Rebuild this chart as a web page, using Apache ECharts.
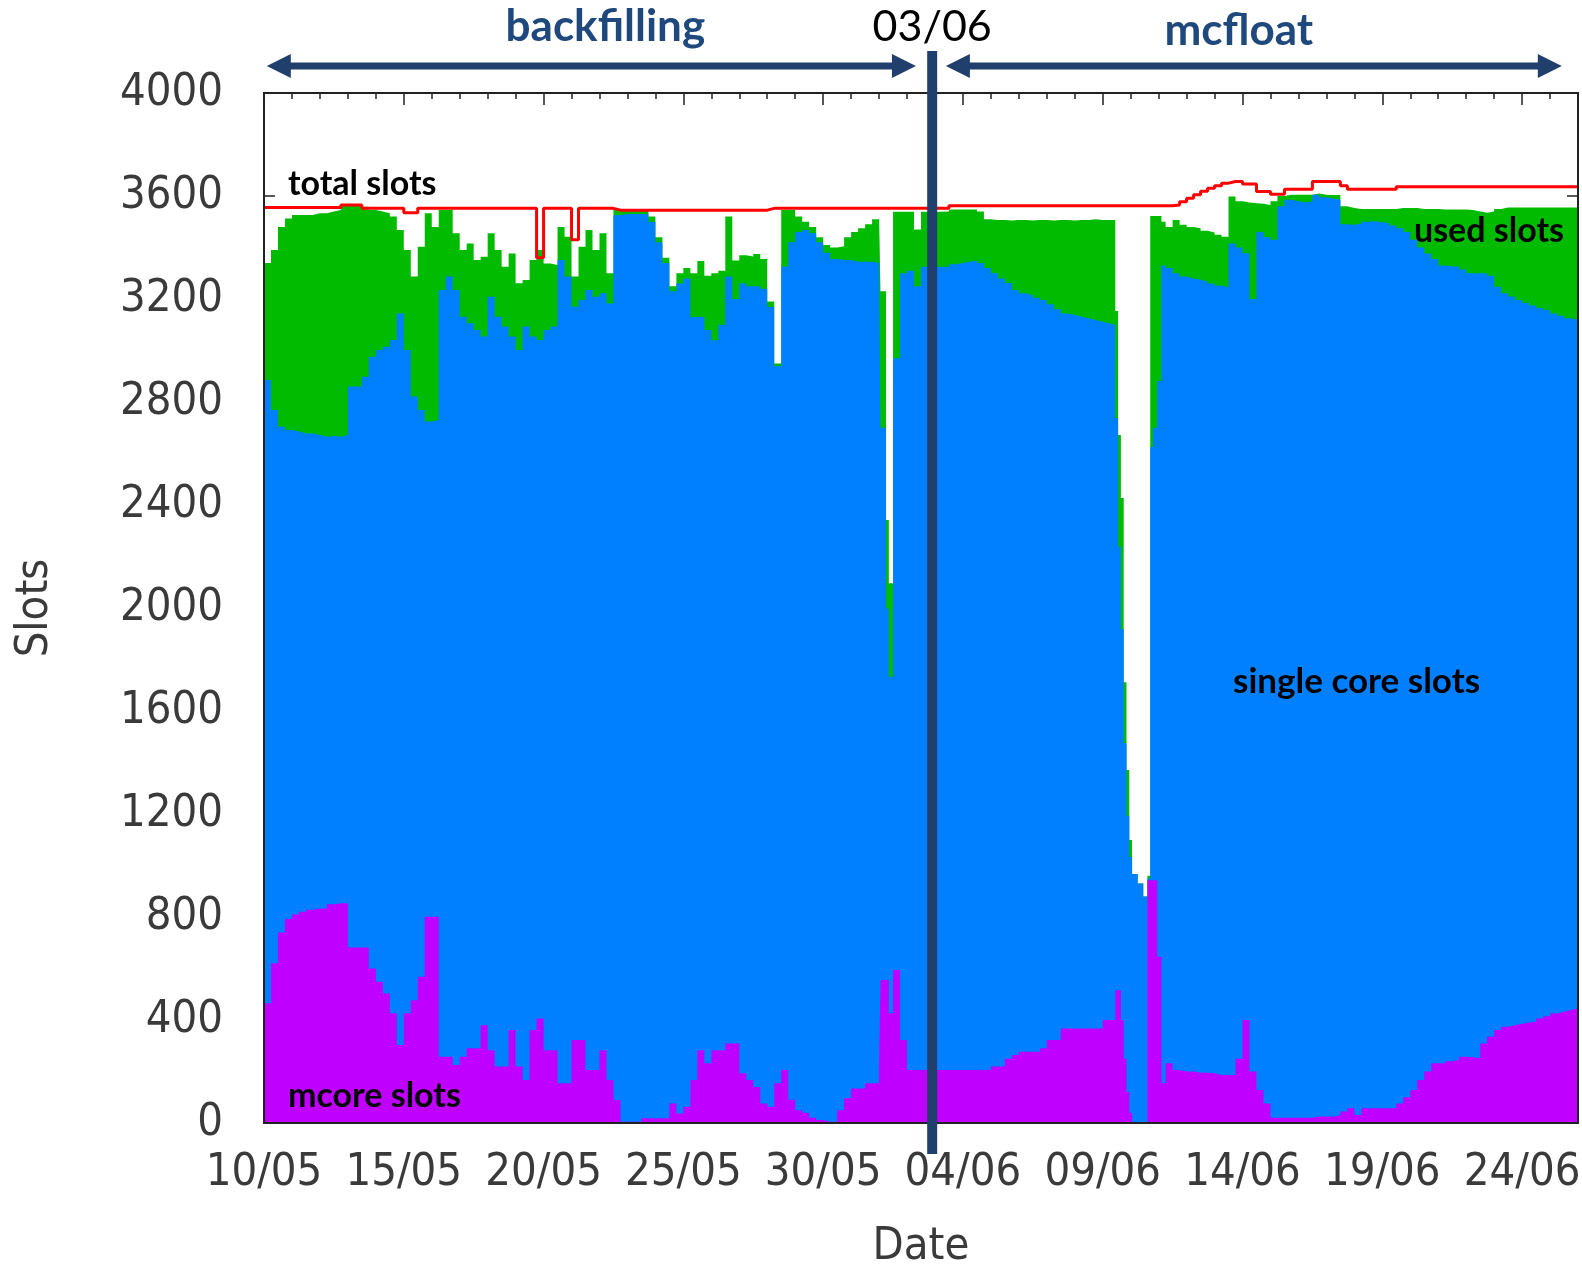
<!DOCTYPE html>
<html>
<head>
<meta charset="utf-8">
<script src="https://cdn.jsdelivr.net/npm/echarts@6/dist/echarts.min.js"></script>
<style>
html,body{margin:0;padding:0;background:#fff;}
#chart{width:1582px;height:1265px;}
</style>
</head>
<body>
<div id="chart"></div>
<script>
// ---- data (x = days since 10/05) ----
const days = [
0,0.25,0.5,0.75,
1,1.25,1.5,1.75,
2,2.25,2.5,2.75,
3,3.25,3.5,3.75,
4,4.25,4.5,4.75,
5,5.25,5.5,5.75,
6,6.25,6.5,6.75,
7,7.25,7.5,7.75,
8,8.25,8.5,8.75,
9,9.25,9.5,9.75,
10,10.25,10.5,10.75,
11,11.25,11.5,11.75,
12,12.25,12.5,12.75,
13,13.25,13.5,13.75,
14,14.25,14.5,14.75,
15,15.25,15.5,15.75,
16,16.25,16.5,16.75,
17,17.25,17.5,17.75,
18,18.25,18.5,18.75,
19,19.25,19.5,19.75,
20,20.25,20.5,20.75,
21,21.25,21.5,21.75,
22,22.05,22.25,22.35,22.5,22.75,
23,23.25,23.5,23.75,
24,24.25,24.5,24.75,
25,25.25,25.5,25.75,
26,26.25,26.5,26.75,
27,27.25,27.5,27.75,
28,28.25,28.5,28.75,
29,29.25,29.5,29.75,
30,30.25,30.45,30.55,30.65,30.75,30.85,30.95,
31.05,31.25,31.45,31.6,31.7,31.8,31.95,
32.1,32.25,32.5,32.75,
33,33.25,33.5,33.75,
34,34.25,34.5,34.75,
35,35.25,35.5,35.75,
36,36.25,36.5,36.75,
37,37.25,37.5,37.75,
38,38.25,38.5,38.75,
39,39.25,39.5,39.75,
40,40.25,40.5,40.75,
41,41.25,41.5,41.75,
42,42.25,42.5,42.75,
43,43.25,43.5,43.75,
44,44.25,44.5,44.75,
45,45.25,45.5,45.75,
46,46.25,46.5,46.75,
47
];

const usedSlots = [
3340,3390,3480,3513,
3526,3526,3526,3533,
3533,3540,3546,3565,
3569,3569,3558,3546,
3540,3533,3520,3468,
3390,3287,3403,3533,
3480,3546,3546,3455,
3390,3416,3351,3364,
3455,3390,3325,3377,
3261,3274,3351,3390,
3338,3332,3480,3442,
3287,3403,3468,3390,
3455,3300,3546,3546,
3546,3546,3548,3520,
3440,3360,3250,3300,
3320,3300,3348,3290,
3300,3310,3520,3350,
3370,3365,3375,3355,
3190,2950,3546,3546,
3520,3500,3480,3440,
3410,3400,3405,3440,
3460,3475,3490,3510,
3527,3230,2342,2096,3539,3539,
3539,3470,3539,3539,
3539,3540,3548,3548,
3548,3548,3540,3510,
3507,3507,3505,3507,
3507,3505,3507,3507,
3505,3507,3507,3505,
3507,3507,3510,3507,
3507,3507,3153,2672,2427,1712,1371,1099,
967,930,880,960,3522,3522,3522,
3500,3480,3507,3488,
3480,3475,3465,3458,
3450,3442,3598,3580,
3575,3572,3570,3565,
3580,3600,3605,3605,
3605,3605,3610,3605,
3604,3604,3560,3553,
3550,3550,3550,3550,
3550,3550,3553,3553,
3553,3550,3550,3550,
3548,3548,3548,3548,
3546,3540,3535,3540,
3550,3555,3555,3555,
3555,3555,3555,3555,
3555,3555,3555,3555,
3555
];

const mcoreSlots = [
465,620,740,792,
810,820,828,833,
833,850,853,853,
682,682,682,600,
549,503,426,303,
426,477,568,801,
801,257,257,225,
257,290,290,380,
283,219,219,361,
219,167,361,406,
283,283,154,154,
322,322,206,206,
283,167,89,5,
5,5,18,18,
18,18,76,37,
63,167,283,232,
283,283,309,309,
193,167,140,76,
63,154,206,90,
50,40,20,12,
5,5,50,96,
134,134,154,154,
219,555,555,426,594,322,
206,206,206,206,
206,206,206,206,
206,206,206,206,
219,219,250,264,
277,277,277,290,
322,322,367,367,
367,367,367,367,
400,400,516,516,400,250,120,40,
0,0,0,943,943,943,646,
154,232,206,200,
200,195,195,193,
186,186,186,250,
400,200,128,76,
20,20,20,20,
20,20,25,25,
25,30,45,57,
31,57,57,57,
57,57,76,100,
128,167,200,232,
232,240,245,257,
255,251,309,335,
361,374,380,385,
390,393,406,415,
425,432,439,445,
445
];

const singleCoreSlots = [
2420,2149,1964,1899,
1875,1858,1850,1839,
1832,1818,1812,1819,
2178,2178,2216,2376,
2453,2512,2615,2841,
2576,2344,2201,1923,
1929,2978,3030,3010,
2874,2816,2790,2674,
2926,2912,2874,2693,
2783,2926,2693,2635,
2797,2810,3197,3133,
2848,2874,3029,3003,
2939,3016,3437,3525,
3525,3525,3512,3482,
3402,3322,3154,3223,
3217,2963,2848,2848,
2757,2817,2978,2891,
3067,3083,3110,3164,
3107,2786,3120,3330,
3410,3428,3435,3408,
3375,3350,3301,3255,
3211,3211,3191,3186,
3126,2145,1443,1307,2376,2978,
3104,3044,3119,3119,
3119,3119,3129,3134,
3139,3144,3134,3114,
3081,3061,3012,2971,
2945,2938,2928,2906,
2858,2838,2777,2771,
2764,2758,2751,2745,
2705,2700,2222,1723,1518,1226,1072,993,
967,930,880,7,1682,1757,2236,
3176,3088,3094,3087,
3080,3080,3073,3067,
3066,3060,3230,3150,
2978,3000,3332,3364,
3410,3540,3565,3560,
3555,3560,3580,3570,
3565,3555,3445,3431,
3461,3443,3445,3441,
3437,3428,3399,3360,
3302,3233,3177,3123,
3098,3086,3081,3058,
3045,3049,2991,2955,
2887,2848,2830,2811,
2795,2782,2759,2742,
2719,2703,2686,2674,
2670
];

const totalSlots = [
3555,3555,3555,3555,
3555,3555,3555,3555,
3555,3555,3555,3565,
3565,3565,3552,3552,
3552,3552,3552,3552,
3535,3535,3552,3552,
3552,3552,3552,3552,
3552,3552,3552,3552,
3552,3552,3552,3552,
3552,3552,3552,3360,
3552,3552,3552,3552,
3430,3552,3552,3552,
3552,3552,3545,3545,
3545,3545,3545,3545,
3545,3545,3545,3545,
3545,3545,3545,3545,
3545,3545,3545,3545,
3545,3545,3545,3545,
3552,3552,3552,3552,
3552,3552,3552,3552,
3552,3552,3552,3552,
3552,3552,3552,3552,
3552,3552,3552,3552,3552,3552,
3552,3552,3552,3552,
3552,3552,3562,3562,
3562,3562,3562,3562,
3562,3562,3562,3562,
3562,3562,3562,3562,
3562,3562,3562,3562,
3562,3562,3562,3562,
3562,3562,3562,3562,3562,3562,3562,3562,
3562,3562,3562,3562,3562,3562,3562,
3562,3562,3565,3578,
3591,3605,3618,3630,
3640,3650,3656,3656,
3647,3647,3617,3617,
3607,3607,3626,3626,
3626,3626,3656,3656,
3656,3656,3640,3626,
3626,3626,3626,3626,
3626,3626,3636,3636,
3636,3636,3636,3636,
3636,3636,3636,3636,
3636,3636,3636,3636,
3636,3636,3636,3636,
3636,3636,3636,3636,
3636,3636,3636,3636,
3636
];

const dateTickLabels = ['10/05','15/05','20/05','25/05','30/05','04/06','09/06','14/06','19/06','24/06'];
const changeDay = 23.9;            // 03/06 switch
const changeLabel = '03/06';
const backfillSpan = [0.1, 23.32];
const mcfloatSpan = [24.39, 46.42];

// ---- styles ----
const TICK_FONT = "'DejaVu Sans Condensed', 'DejaVu Sans', sans-serif";
const ANN_FONT = "Lato, 'Open Sans', sans-serif";
const NAVY = '#1F497D';
const BAR = '#203F6C';
const AXC = '#222';
const LBL = '#3a3a3a';

const pairs = arr => days.map((d, i) => [d, arr[i]]);
// stacked top of the single-core band (mcore + single core)
const stackedPairs = (base, top) => days.map((d, i) => [d, base[i] + top[i]]);

const chart = echarts.init(document.getElementById('chart'), null, {renderer: 'canvas'});

const xLabel = v => {
  const i = Math.round(v / 5);
  return (Math.abs(v - i * 5) < 1e-6 && dateTickLabels[i] !== undefined) ? dateTickLabels[i] : '';
};

const topAxis = (interval, len) => ({
  type: 'value', min: 0, max: 47, interval: interval, position: 'top', z: 10,
  axisLine: {show: true, onZero: false, lineStyle: {color: AXC, width: 2}},
  axisTick: {show: true, inside: true, length: len, lineStyle: {color: AXC, width: 1.5}},
  axisLabel: {show: false}, splitLine: {show: false}
});

const yBase = {type: 'value', min: 0, max: 4000, interval: 400, splitLine: {show: false}};

chart.setOption({
  animation: false,
  backgroundColor: '#fff',
  grid: {left: 264, right: 4, top: 93, bottom: 142, containLabel: false, outerBoundsMode: 'none'},
  xAxis: [
    {
      type: 'value', min: 0, max: 47, interval: 5, position: 'bottom', z: 10,
      axisLine: {show: true, onZero: false, lineStyle: {color: AXC, width: 2}},
      axisTick: {show: false}, splitLine: {show: false},
      axisLabel: {formatter: xLabel, fontFamily: TICK_FONT, fontSize: 45, color: LBL, margin: 28},
      name: 'Date', nameLocation: 'middle', nameGap: 102,
      nameTextStyle: {fontFamily: TICK_FONT, fontSize: 45, color: LBL}
    },
    topAxis(5, 12),
    topAxis(1, 6)
  ],
  yAxis: [
    Object.assign({}, yBase, {
      position: 'left', z: 10,
      axisLine: {show: true, onZero: false, lineStyle: {color: AXC, width: 2}},
      axisTick: {show: false},
      axisLabel: {fontFamily: TICK_FONT, fontSize: 45, color: LBL, margin: 41, formatter: v => String(v)},
      name: 'Slots', nameLocation: 'middle', nameGap: 206, nameRotate: 90,
      nameTextStyle: {fontFamily: TICK_FONT, fontSize: 45, color: LBL}
    }),
    Object.assign({}, yBase, {
      position: 'right', z: 10,
      axisLine: {show: true, onZero: false, lineStyle: {color: AXC, width: 2}},
      axisTick: {show: false}, axisLabel: {show: false}
    }),
    Object.assign({}, yBase, {
      position: 'left', z: 0,
      axisLine: {show: false, onZero: false},
      axisTick: {show: true, inside: true, length: 11, lineStyle: {color: AXC, width: 1.5}},
      axisLabel: {show: false}
    }),
    Object.assign({}, yBase, {
      position: 'right', z: 0,
      axisLine: {show: false, onZero: false},
      axisTick: {show: true, inside: true, length: 11, lineStyle: {color: AXC, width: 1.5}},
      axisLabel: {show: false}
    })
  ],
  series: [
    {
      name: 'used slots', type: 'line', step: 'end', data: pairs(usedSlots),
      symbol: 'none', showSymbol: false, z: 2,
      lineStyle: {width: 0}, areaStyle: {color: '#00BB00', opacity: 1}, itemStyle: {color: '#00BB00'}
    },
    {
      name: 'single core slots', type: 'line', step: 'end', data: stackedPairs(mcoreSlots, singleCoreSlots),
      symbol: 'none', showSymbol: false, z: 3,
      lineStyle: {width: 0}, areaStyle: {color: '#0080FF', opacity: 1}, itemStyle: {color: '#0080FF'}
    },
    {
      name: 'mcore slots', type: 'line', step: 'end', data: pairs(mcoreSlots),
      symbol: 'none', showSymbol: false, z: 4,
      lineStyle: {width: 0}, areaStyle: {color: '#BF00FF', opacity: 1}, itemStyle: {color: '#BF00FF'}
    },
    {
      name: 'total slots', type: 'line', step: 'end', data: pairs(totalSlots),
      symbol: 'none', showSymbol: false, z: 5,
      lineStyle: {width: 3, color: '#FF0000'}, itemStyle: {color: '#FF0000'}
    }
  ]
});

// ---- annotations placed through the axis scale ----
const px = d => chart.convertToPixel({xAxisIndex: 0}, d);
const AY = 66;
function arrow(d1, d2) {
  const x1 = px(d1), x2 = px(d2), h = 24, w = 12;
  return [
    {type: 'rect', shape: {x: x1 + h - 2, y: AY - 3.5, width: x2 - x1 - 2 * h + 4, height: 7}, style: {fill: BAR}, z: 100},
    {type: 'polygon', shape: {points: [[x1, AY], [x1 + h, AY - w], [x1 + h, AY + w]]}, style: {fill: BAR}, z: 100},
    {type: 'polygon', shape: {points: [[x2, AY], [x2 - h, AY - w], [x2 - h, AY + w]]}, style: {fill: BAR}, z: 100}
  ];
}
const xc = px(changeDay);
const txt = (x, y, s, opt) => ({
  type: 'text', x: x, y: y, z: 101,
  style: Object.assign({text: s, fill: '#000', fontFamily: ANN_FONT, fontWeight: 'bold', fontSize: 34,
    textAlign: 'left', textVerticalAlign: 'middle'}, opt || {})
});
chart.setOption({
  graphic: [
    {type: 'rect', shape: {x: xc - 5, y: 51, width: 10, height: 1103}, style: {fill: BAR}, z: 100},
    ...arrow(backfillSpan[0], backfillSpan[1]),
    ...arrow(mcfloatSpan[0], mcfloatSpan[1]),
    txt((px(backfillSpan[0]) + px(backfillSpan[1])) / 2 + 14, 27, 'backfilling', {fill: NAVY, fontSize: 44, textAlign: 'center'}),
    txt((px(mcfloatSpan[0]) + px(mcfloatSpan[1])) / 2 - 15, 31, 'mcfloat', {fill: NAVY, fontSize: 44, textAlign: 'center'}),
    txt(xc, 27, changeLabel, {fontWeight: 'normal', fontSize: 43, textAlign: 'center'}),
    txt(288, 184, 'total slots'),
    txt(1564, 231, 'used slots', {textAlign: 'right'}),
    txt(1233, 682, 'single core slots', {fontSize: 35}),
    txt(288, 1096, 'mcore slots')
  ]
});
</script>
</body>
</html>
